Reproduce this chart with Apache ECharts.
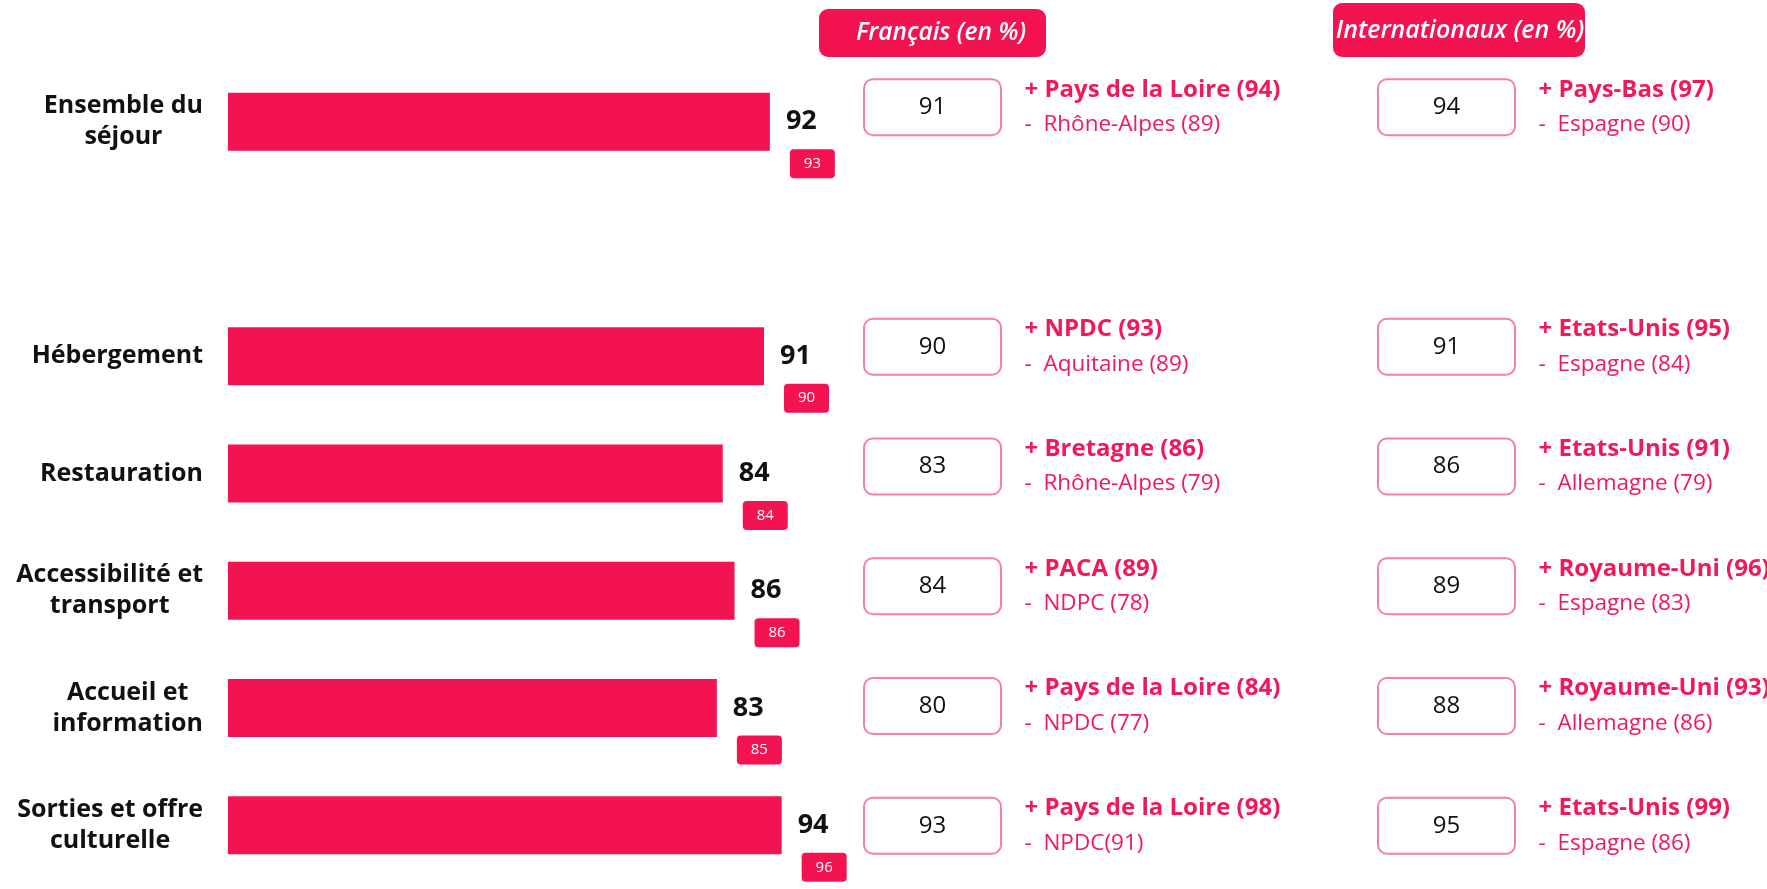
<!DOCTYPE html>
<html>
<head>
<meta charset="utf-8">
<script src="https://cdn.jsdelivr.net/npm/echarts@6/dist/echarts.min.js"></script>
<style>
  html, body { margin: 0; padding: 0; background: #ffffff; }
  #chart { width: 1767px; height: 889px; }
</style>
</head>
<body>
<div id="chart"></div>
<script>
// Satisfaction scores per topic (in %)
const categories = ['Ensemble du\nséjour', 'Hébergement', 'Restauration', 'Accessibilité et\ntransport', 'Accueil et\ninformation', 'Sorties et offre\nculturelle'];
const scores = [92, 91, 84, 86, 83, 94];
const previousScores = [93, 90, 84, 86, 85, 96];

// French visitors: overall score, best and lowest region
const frenchScores = [91, 90, 83, 84, 80, 93];
const frenchBest = ['Pays de la Loire (94)', 'NPDC (93)', 'Bretagne (86)', 'PACA (89)', 'Pays de la Loire (84)', 'Pays de la Loire (98)'];
const frenchWorst = ['Rhône-Alpes (89)', 'Aquitaine (89)', 'Rhône-Alpes (79)', 'NDPC (78)', 'NPDC (77)', 'NPDC(91)'];

// International visitors: overall score, best and lowest country
const intlScores = [94, 91, 86, 89, 88, 95];
const intlBest = ['Pays-Bas (97)', 'Etats-Unis (95)', 'Etats-Unis (91)', 'Royaume-Uni (96)', 'Royaume-Uni (93)', 'Etats-Unis (99)'];
const intlWorst = ['Espagne (90)', 'Espagne (84)', 'Allemagne (79)', 'Espagne (83)', 'Allemagne (86)', 'Espagne (86)'];

const columnTitles = ['Français (en %)', 'Internationaux (en %)'];

const RED = '#F31351';
const TEXT_RED = '#F2185A';
const BOX_BORDER = '#F4819E';
const FONT = '"Open Sans", "Noto Sans", sans-serif';

// The overall score stands apart: an empty slot follows it on the axis
const withGap = arr => [arr[0], '-'].concat(arr.slice(1));
const axisRows = [categories[0], ''].concat(categories.slice(1));
const prevWithGap = withGap(previousScores);

// One panel item per (column, row): French column 0, international column 1
const panelItems = [];
const panelData = [];
[[frenchScores, frenchBest, frenchWorst], [intlScores, intlBest, intlWorst]].forEach((cols, c) => {
  cols[0].forEach((v, i) => {
    const row = i === 0 ? 0 : i + 1;
    panelData.push([c, row, v]);
    panelItems.push({ best: cols[1][i], worst: cols[2][i] });
  });
});

const chart = echarts.init(document.getElementById('chart'), null, { renderer: 'canvas' });

chart.setOption({
  backgroundColor: '#ffffff',
  animation: false,
  grid: [
    { left: 228, top: 63, width: 589, height: 821 },
    { left: 675.5, top: 47.4, width: 1028, height: 838.25 }
  ],
  xAxis: [
    { gridIndex: 0, type: 'value', min: 0, max: 100, show: false },
    { gridIndex: 1, type: 'category', data: columnTitles, show: false }
  ],
  yAxis: [
    {
      gridIndex: 0, type: 'category', data: axisRows, inverse: true,
      axisLine: { show: false }, axisTick: { show: false }, splitLine: { show: false },
      axisLabel: {
        margin: 25,
        formatter: v => v ? v.split('\n').map(l => '{c|' + l + '}').join('\n') : '',
        rich: {
          c: { align: 'center', fontFamily: FONT, fontWeight: 'bold', fontSize: 25, lineHeight: 31, color: '#111111' }
        }
      }
    },
    { gridIndex: 1, type: 'category', data: axisRows, inverse: true, show: false }
  ],
  graphic: [
    { type: 'rect', shape: { x: 819, y: 9, width: 227, height: 48, r: 9 }, style: { fill: RED } },
    { type: 'text', style: { x: 941, y: 33, text: columnTitles[0], align: 'center', verticalAlign: 'middle', fill: '#ffffff', font: 'italic 600 24.5px ' + FONT } },
    { type: 'rect', shape: { x: 1333, y: 3, width: 252, height: 54, r: 9 }, style: { fill: RED } },
    { type: 'text', style: { x: 1460, y: 31, text: columnTitles[1], align: 'center', verticalAlign: 'middle', fill: '#ffffff', font: 'italic 600 25px ' + FONT } }
  ],
  series: [
    {
      type: 'bar', xAxisIndex: 0, yAxisIndex: 0,
      data: withGap(scores), barWidth: 58,
      itemStyle: { color: RED },
      label: {
        show: true, position: 'right', distance: 16,
        fontFamily: FONT, fontWeight: 'bold', fontSize: 27, color: '#111111'
      },
      z: 2
    },
    {
      // previous-wave score, shown in a small tag under each bar end
      type: 'bar', xAxisIndex: 0, yAxisIndex: 0,
      data: withGap(scores), barWidth: 58, barGap: '-100%',
      itemStyle: { color: 'rgba(0,0,0,0)' },
      label: {
        show: true, position: 'right', distance: 20, offset: [0, 42],
        formatter: p => '{b|' + prevWithGap[p.dataIndex] + '}',
        rich: {
          b: {
            width: 45, height: 29, lineHeight: 29, align: 'center',
            backgroundColor: RED, borderRadius: 4,
            color: '#ffffff', fontFamily: FONT, fontSize: 15
          }
        }
      },
      z: 3
    },
    {
      type: 'custom', xAxisIndex: 1, yAxisIndex: 1,
      data: panelData,
      renderItem: (params, api) => {
        const p = api.coord([api.value(0), api.value(1)]);
        const item = panelItems[params.dataIndex];
        return {
          type: 'group',
          children: [
            { type: 'rect', shape: { x: p[0] - 68.5, y: p[1] - 28, width: 137, height: 56, r: 9 },
              style: { fill: '#ffffff', stroke: BOX_BORDER, lineWidth: 2 } },
            { type: 'text', style: { x: p[0], y: p[1], text: String(api.value(2)), align: 'center', verticalAlign: 'middle',
              fill: '#111111', font: '24px ' + FONT } },
            { type: 'text', style: { x: p[0] + 92, y: p[1] - 17.5, text: '+ ' + item.best, align: 'left', verticalAlign: 'middle',
              fill: TEXT_RED, font: 'bold 24px ' + FONT } },
            { type: 'text', style: { x: p[0] + 92, y: p[1] + 17.5, text: '-  ' + item.worst, align: 'left', verticalAlign: 'middle',
              fill: TEXT_RED, font: '22.5px ' + FONT } }
          ]
        };
      }
    }
  ]
});
</script>
</body>
</html>
